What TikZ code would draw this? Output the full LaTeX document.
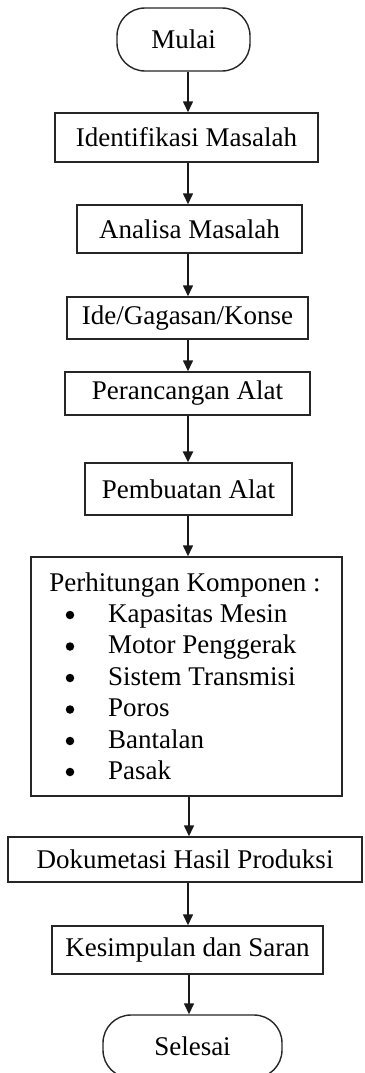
\documentclass[tikz,border=0pt]{standalone}
\usepackage{fontspec}
\setmainfont{Liberation Serif}
\usetikzlibrary{arrows.meta,calc}
\begin{document}
\begin{tikzpicture}[x=1pt,y=-1pt,
  every node/.style={font=\fontsize{27}{31.5}\selectfont, text=black},
  box/.style={draw=black!85, line width=1.4pt, inner sep=0pt},
  term/.style={box, rounded corners=28pt},
  arr/.style={draw=black!90, line width=1.4pt, -{Triangle[width=10pt,length=11pt]}},
  thickarr/.style={arr, line width=2.4pt},
  bul/.style={circle, fill=black, inner sep=0pt, minimum size=8.5pt},
  item/.style={anchor=base west, inner sep=0pt}]
\path[use as bounding box, clip] (0,0) rectangle (364,1073);
\fill[white] (0,0) rectangle (364,1073);
\coordinate (ax) at (188,0);
\node[term, minimum width=133pt, minimum height=63pt] (mulai) at (183.5,39.5) {Mulai};
\node[box, minimum width=263pt, minimum height=49pt] (ident) at (186.5,137.5) {Identifikasi Masalah};
\node[box, minimum width=225pt, minimum height=48pt] (anal) at (189.5,229) {Analisa Masalah};
\node[box, minimum width=241pt, minimum height=42pt] (ide) at (187.5,318) {Ide/Gagasan/Konse};
\node[box, minimum width=245pt, minimum height=43pt] (peran) at (187.5,393.5) {Perancangan Alat};
\node[box, minimum width=207pt, minimum height=52pt] (pemb) at (188.5,489) {Pembuatan Alat};
\node[box, minimum width=311pt, minimum height=239pt] (perh) at (186.5,676.5) {};
\node[anchor=base, inner sep=0pt] (perht) at (185,591) {Perhitungan Komponen :};
\node[bul] (b1) at (70,615) {};
\node[item] (i1) at (108,622) {Kapasitas Mesin};
\node[bul] (b2) at (70,646.5) {};
\node[item] (i2) at (108,653.5) {Motor Penggerak};
\node[bul] (b3) at (70,678) {};
\node[item] (i3) at (108,685) {Sistem Transmisi};
\node[bul] (b4) at (70,709.5) {};
\node[item] (i4) at (108,716.5) {Poros};
\node[bul] (b5) at (70,741) {};
\node[item] (i5) at (108,748) {Bantalan};
\node[bul] (b6) at (70,772) {};
\node[item] (i6) at (108,779) {Pasak};
\node[box, minimum width=354pt, minimum height=45pt] (dok) at (185,859.5) {Dokumetasi Hasil Produksi};
\node[box, minimum width=271pt, minimum height=48pt] (kes) at (187.5,950) {Kesimpulan dan Saran};
\node[term, minimum width=179pt, minimum height=63pt] (sel) at (192.5,1046.5) {Selesai};
\draw[arr] (mulai.south -| ax) -- (ident.north -| ax);
\draw[arr] (ident.south -| ax) -- (anal.north -| ax);
\draw[arr] (anal.south -| ax) -- (ide.north -| ax);
\draw[arr] (ide.south -| ax) -- (peran.north -| ax);
\draw[thickarr] (peran.south -| ax) -- (pemb.north -| ax);
\draw[arr] (pemb.south -| ax) -- (perh.north -| ax);
\draw[arr] ([xshift=1pt]perh.south -| ax) -- ([xshift=1pt]dok.north -| ax);
\draw[arr] (dok.south -| ax) -- (kes.north -| ax);
\draw[arr] ([xshift=1pt]kes.south -| ax) -- ([xshift=1pt]sel.north -| ax);
\end{tikzpicture}
\end{document}
